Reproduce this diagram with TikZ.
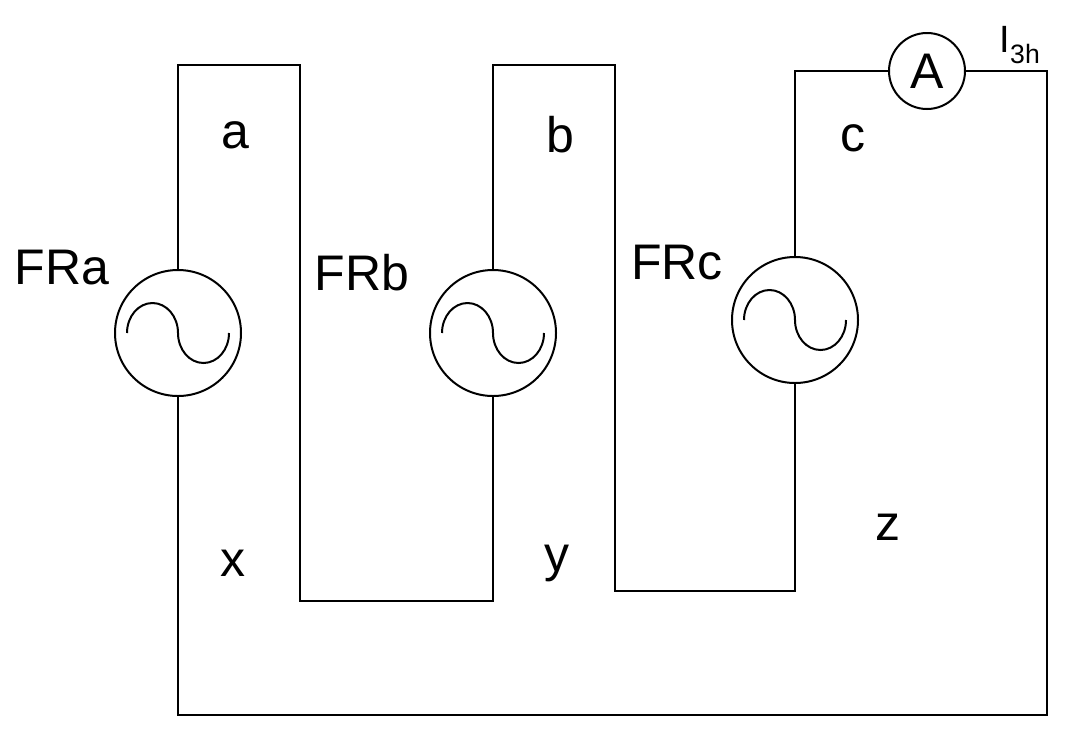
\documentclass[tikz,border=0pt]{standalone}
\usepackage{fontspec}
\setmainfont{Liberation Sans}
\begin{document}
\begin{tikzpicture}[x=1pt,y=-1pt,line width=2pt,
  src/.style={circle,draw,minimum size=126pt,inner sep=0pt},
  lbl/.style={font=\fontsize{50}{54}\selectfont,inner sep=0pt}]
\useasboundingbox (0,0) rectangle (1065,732);
\node[src] (sa) at (178,333) {};
\node[src] (sb) at (493,333) {};
\node[src] (sc) at (795,320) {};
\node[circle,draw,minimum size=76pt,inner sep=0pt,font=\fontsize{50}{54}\selectfont] (am) at (927,71) {A};
\foreach \n in {sa,sb,sc}{
  \draw (\n.center) ++(-51,0) arc[start angle=180,end angle=360,x radius=25.5,y radius=30]
        arc[start angle=180,end angle=0,x radius=25.5,y radius=30];
}
\coordinate (t1) at (178,65); \coordinate (t2) at (300,65);
\coordinate (b2) at (300,601); \coordinate (b3) at (493,601);
\coordinate (t3) at (493,65); \coordinate (t4) at (615,65);
\coordinate (b4) at (615,591); \coordinate (b5) at (795,591);
\coordinate (t5) at (795,71); \coordinate (t6) at (1047,71);
\coordinate (g1) at (1047,715); \coordinate (g0) at (178,715);
\draw (sa.north) -- (t1) -- (t2) -- (b2) -- (b3) -- (sb.south);
\draw (sb.north) -- (t3) -- (t4) -- (b4) -- (b5) -- (sc.south);
\draw (sc.north) -- (t5) -- (am.west);
\draw (am.east) -- (t6) -- (g1) -- (g0) -- (sa.south);
\node[lbl] (la) at (235,135) {a};
\node[lbl] (lb) at (560,135) {b};
\node[lbl] (lc) at (853,138) {c};
\node[lbl] (lx) at (233,563) {x};
\node[lbl] (ly) at (557,563) {y};
\node[lbl] (lz) at (888,527) {z};
\node[lbl] (fa) at (62,268) {FRa};
\node[lbl] (fb) at (362,273) {FRb};
\node[lbl] (fc) at (677,263) {FRc};
\node[font=\fontsize{38}{40}\selectfont,inner sep=0pt] (ih) at (1020,45) {I\textsubscript{3h}};
\end{tikzpicture}
\end{document}
